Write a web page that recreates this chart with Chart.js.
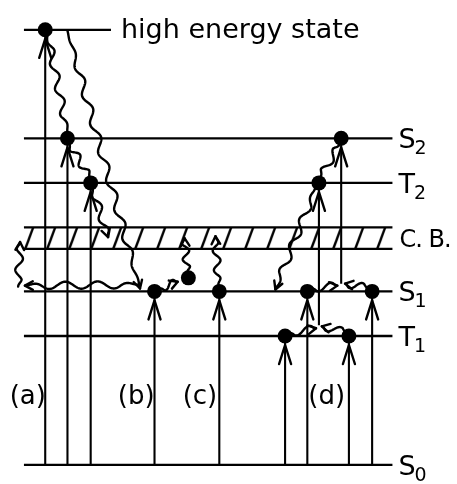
<!DOCTYPE html>
<html><head><meta charset="utf-8">
<script src="https://cdn.jsdelivr.net/npm/chart.js@4.4.1/dist/chart.umd.min.js"></script>
<style>html,body{margin:0;padding:0;background:#fff}#wrap{width:457px;height:484px}</style>
</head><body><div id="wrap"><canvas id="c" width="457" height="484"></canvas></div>
<script>
// ---- energy levels (energy units above S0) ----
const levelNames    = ['S', 'T', 'S', 'T', 'S'];
const levelSubs     = ['0', '1', '1', '2', '2'];
const levelEnergies = [0, 133, 179, 291, 337];
const highEnergy = 449;
const highLabel  = 'high energy state';
const cbBottom = 223, cbTop = 245;
const cbLabel  = 'C. B.';
const levelSpan = [17, 398];
const highSpan  = [17, 107];

// ---- panel labels ----
const panelLabels = ['(a)', '(b)', '(c)', '(d)'];
const panelX      = [21, 133, 199, 330];
const panelY      = [72, 72, 72, 72];

// ---- upward excitation arrows from S0 ----
const exciteX  = [39, 62, 86, 152, 219, 287, 310, 353, 377];
const exciteTo = [449, 337, 291, 179, 179, 133, 179, 133, 179];
// ---- second-step excitations in (d) ----
const excite2X    = [322, 345];
const excite2From = [144, 187];
const excite2To   = [291, 337];

// ---- occupied states (dots) ----
const dotX = [39, 62, 86, 152, 187, 219, 287, 310, 353, 377, 322, 345];
const dotY = [449, 337, 291, 179, 193, 179, 133, 179, 133, 179, 291, 337];

// ---- wavy (non-radiative / energy transfer) transitions ----
const waveX0 = [41, 64, 88, 62, 135, 11, 158, 186, 218, 343, 318, 292, 350, 315, 372];
const waveY0 = [446, 331, 285, 448, 186, 184, 182, 199, 186, 330, 285, 136, 137, 182, 183];
const waveX1 = [62, 85, 104, 137, 18, 13, 176, 183, 215, 324, 277, 319, 325, 341, 349];
const waveY1 = [343, 297, 235, 182, 185, 230, 189, 234, 236, 298, 181, 141, 143, 185, 187];
const waveHead   = [false, false, true, true, true, true, true, true, true, false, true, true, true, true, true];
const waveCycles = [4, 2, 2, 9, 3.5, 2, 1, 2, 2.5, 1.5, 4, 1, 1, 1, 1];

const FONT = '"DejaVu Sans", sans-serif';
const INK = '#000';
const LW = 2.3;

// ---- build datasets ----
const datasets = [];
levelEnergies.forEach(e => datasets.push({
  data: [{x: levelSpan[0], y: e}, {x: levelSpan[1], y: e}], borderWidth: LW
}));
datasets.push({ data: [{x: highSpan[0], y: highEnergy}, {x: highSpan[1], y: highEnergy}], borderWidth: LW });
// conduction band (hatched)
datasets.push({
  data: [{x: levelSpan[0], y: cbTop}, {x: levelSpan[1], y: cbTop}], borderWidth: LW,
  fill: '+1',
  backgroundColor: (ctx) => {
    const chart = ctx.chart;
    if (!chart.chartArea || !chart.scales.y) return 'transparent';
    const yt = chart.scales.y.getPixelForValue(cbTop);
    const yb = chart.scales.y.getPixelForValue(cbBottom);
    const h = Math.max(2, Math.round(yb - yt));
    const tile = document.createElement('canvas');
    tile.width = 22; tile.height = h;
    const t = tile.getContext('2d');
    t.strokeStyle = INK; t.lineWidth = 2.4;
    t.beginPath(); t.moveTo(4, h + 1); t.lineTo(12.5, -1); t.stroke();
    const p = chart.ctx.createPattern(tile, 'repeat');
    p.setTransform(new DOMMatrix([1, 0, 0, 1, -1, yt]));
    return p;
  }
});
datasets.push({ data: [{x: levelSpan[0], y: cbBottom}, {x: levelSpan[1], y: cbBottom}], borderWidth: LW });
// excitation lines
exciteX.forEach((x, i) => datasets.push({ data: [{x, y: 0}, {x, y: exciteTo[i]}], borderWidth: 2.1 }));
excite2X.forEach((x, i) => datasets.push({ data: [{x, y: excite2From[i]}, {x, y: excite2To[i]}], borderWidth: 2.1 }));
// dots
datasets.push({
  data: dotX.map((x, i) => ({x, y: dotY[i]})), showLine: false,
  pointRadius: 7.5, pointBackgroundColor: INK, pointBorderColor: INK, pointBorderWidth: 0, order: -1
});
datasets.forEach(d => {
  d.borderColor = INK;
  if (d.pointRadius === undefined) d.pointRadius = 0;
  if (d.backgroundColor === undefined) d.backgroundColor = INK;
  d.fill = d.fill || false;
  d.tension = 0;
});

function drawHead(ctx, tx, ty, ux, uy, len, spread) {
  const c = Math.cos(spread), s = Math.sin(spread);
  const bx = -ux, by = -uy;
  ctx.beginPath();
  ctx.moveTo(tx + len * (bx * c - by * s), ty + len * (bx * s + by * c));
  ctx.lineTo(tx, ty);
  ctx.lineTo(tx + len * (bx * c + by * s), ty + len * (-bx * s + by * c));
  ctx.stroke();
}

const diagramPlugin = {
  id: 'diagram',
  afterDatasetsDraw(chart) {
    const ctx = chart.ctx, X = chart.scales.x, Y = chart.scales.y;
    ctx.save();
    ctx.strokeStyle = INK; ctx.lineWidth = 2.4; ctx.lineCap = 'round'; ctx.lineJoin = 'round';
    // arrowheads under the dots of excitation arrows
    const heads = exciteX.map((x, i) => [x, exciteTo[i]]).concat(excite2X.map((x, i) => [x, excite2To[i]]));
    heads.forEach(([x, e]) => {
      const px = X.getPixelForValue(x), py = Y.getPixelForValue(e);
      ctx.beginPath();
      ctx.moveTo(px - 6, py + 28); ctx.lineTo(px, py + 9); ctx.lineTo(px + 6, py + 28);
      ctx.stroke();
    });
    // wavy transitions
    waveX0.forEach((_, i) => {
      const x0 = X.getPixelForValue(waveX0[i]), y0 = Y.getPixelForValue(waveY0[i]);
      const x1 = X.getPixelForValue(waveX1[i]), y1 = Y.getPixelForValue(waveY1[i]);
      const dx = x1 - x0, dy = y1 - y0, L = Math.hypot(dx, dy);
      const ux = dx / L, uy = dy / L, nx = -uy, ny = ux;
      const n = Math.max(24, Math.ceil(L * 1.5));
      const amp = 3.6;
      ctx.beginPath();
      for (let k = 0; k <= n; k++) {
        const t = k / n;
        const env = Math.min(1, t * 6, (1 - t) * 6);
        const off = amp * env * Math.sin(2 * Math.PI * waveCycles[i] * t);
        const px = x0 + dx * t + nx * off, py = y0 + dy * t + ny * off;
        if (k === 0) ctx.moveTo(px, py); else ctx.lineTo(px, py);
      }
      ctx.stroke();
      if (waveHead[i]) drawHead(ctx, x1, y1, ux, uy, 9, 0.5);
    });
    // texts
    ctx.fillStyle = INK;
    ctx.textAlign = 'left';
    ctx.textBaseline = 'alphabetic';
    ctx.font = '27px ' + FONT;
    ctx.fillText(highLabel, X.getPixelForValue(highSpan[1]) + 10, Y.getPixelForValue(highEnergy) + 8);
    levelEnergies.forEach((e, i) => {
      const px = X.getPixelForValue(levelSpan[1]) + 6, py = Y.getPixelForValue(e) + 10;
      ctx.font = '27px ' + FONT;
      ctx.fillText(levelNames[i], px, py);
      const w = ctx.measureText(levelNames[i]).width;
      ctx.font = '19px ' + FONT;
      ctx.fillText(levelSubs[i], px + w - 1, py + 6);
    });
    ctx.font = '24px ' + FONT;
    ctx.letterSpacing = '-1px';
    ctx.fillText(cbLabel, X.getPixelForValue(levelSpan[1]) + 7, Y.getPixelForValue((cbTop + cbBottom) / 2) + 9);
    ctx.letterSpacing = '0px';
    ctx.font = '26px ' + FONT;
    panelLabels.forEach((s, i) => {
      ctx.fillText(s, X.getPixelForValue(panelX[i]) - ctx.measureText(s).width / 2, Y.getPixelForValue(panelY[i]) + 9);
    });
    ctx.restore();
  }
};

new Chart(document.getElementById('c'), {
  type: 'scatter',
  data: { datasets },
  options: {
    responsive: false, animation: false,
    layout: { padding: 0 },
    elements: { line: { borderCapStyle: 'butt' } },
    plugins: { legend: { display: false }, tooltip: { enabled: false } },
    scales: {
      x: { type: 'linear', min: 0, max: 457, display: false },
      y: { type: 'linear', min: -12, max: 472, display: false }
    },
    showLine: true
  },
  plugins: [diagramPlugin]
});
</script></body></html>
